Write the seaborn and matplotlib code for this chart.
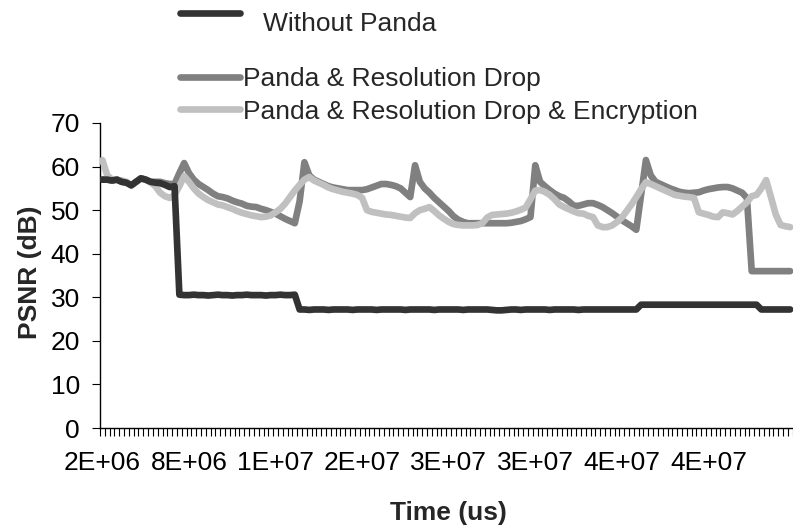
import numpy as np
import pandas as pd
import seaborn as sns
import matplotlib.pyplot as plt
from matplotlib.lines import Line2D

# PSNR per frame (dB), one value per sample on the time axis
without_panda = [
    57, 57, 56.8, 57, 56.5, 56.3, 55.7, 56.5, 57.3, 57, 56.5, 56.3, 56.2, 55.8, 55.3, 55.5,
    30.6, 30.5, 30.5, 30.6, 30.5, 30.5, 30.4, 30.5, 30.6, 30.5, 30.5, 30.4, 30.5,
    30.5, 30.6, 30.5, 30.5, 30.5, 30.4, 30.5, 30.5, 30.6, 30.5, 30.5, 30.6,
    27.2, 27.2, 27.1, 27.2, 27.2, 27.2, 27.1, 27.2, 27.2, 27.2, 27.2, 27.1,
    27.2, 27.2, 27.2, 27.2, 27.1, 27.2, 27.2, 27.2, 27.2, 27.2, 27.1, 27.2,
    27.2, 27.2, 27.2, 27.2, 27.1, 27.2, 27.2, 27.2, 27.2, 27.2, 27.1, 27.2,
    27.2, 27.2, 27.2, 27.2, 27.1, 27.0, 27.0, 27.1, 27.2, 27.2, 27.1, 27.2,
    27.2, 27.2, 27.2, 27.2, 27.1, 27.2, 27.2, 27.2, 27.2, 27.2, 27.1, 27.2,
    27.2, 27.2, 27.2, 27.2, 27.2, 27.2, 27.2, 27.2, 27.2, 27.2, 27.2,
    28.3, 28.3, 28.3, 28.3, 28.3, 28.3, 28.3, 28.3, 28.3, 28.3, 28.3, 28.3, 28.3,
    28.3, 28.3, 28.3, 28.3, 28.3, 28.3, 28.3, 28.3, 28.3, 28.3, 28.3, 28.3,
    27.2, 27.2, 27.2, 27.2, 27.2, 27.2, 27.2,
]

resolution_drop = [
    57, 57, 56.8, 57, 56.5, 56.3, 55.7, 56.5, 57.3, 57, 56.5, 56.5, 56.5, 56.2, 56,
    56, 58.5, 60.8, 58.5, 57, 56, 55.3, 54.6, 53.8, 53.2,
    53, 52.7, 52.2, 51.8, 51.5, 51, 50.8, 50.7, 50.3, 50,
    49.6, 49.2, 48.6, 48, 47.5, 47,
    52, 61, 58, 57, 56.5, 56, 55.5, 55.2, 55, 54.8,
    54.6, 54.6, 54.6, 54.6, 54.8, 55.2, 55.6, 56, 56, 55.8,
    55.5, 55, 54, 53,
    60.3, 56.5, 55, 54, 52.8, 51.8, 50.8, 49.8, 48.6, 47.8,
    47.3, 47, 47, 47, 47, 47, 47, 47, 47, 47,
    47.1, 47.3, 47.5, 47.9, 48.4,
    60.3, 56.5, 55.5, 54.6, 53.8, 53.2, 52.8, 52, 51, 51,
    51.3, 51.6, 51.6, 51.2, 50.7, 50, 49.3, 48.5, 47.7, 47,
    46.3, 45.5,
    53.5, 61.5, 58, 56.5, 56, 55.5, 55, 54.6,
    54.2, 54, 53.9, 54, 54.1, 54.5, 54.8, 55, 55.2, 55.3,
    55.3, 55, 54.5, 54, 52.8,
    36, 36, 36, 36, 36, 36, 36, 36, 36,
]

resolution_drop_encryption = [
    61.5, 58, 57, 57, 56.8, 56.5, 55.7, 56.5, 57.3, 57, 56.4, 55.5, 54, 53.2, 52.8,
    53.5, 55.5, 57.8, 56.5, 55, 53.8, 53, 52.3, 51.8, 51.3,
    51.1, 50.7, 50.3, 49.8, 49.4, 49.1, 48.8, 48.6, 48.4, 48.5,
    48.8, 49.5, 50.3, 51.5, 53, 54.5, 55.8, 57, 57.6, 56.8,
    56.3, 55.8, 55.2, 54.8, 54.5, 54.2, 54, 53.8, 53.5, 52.8,
    50, 49.6, 49.4, 49.2, 49, 48.9, 48.7, 48.5, 48.3, 48.2,
    49.3, 50, 50.3, 50.7, 49.8, 48.8, 48, 47.3, 46.8, 46.6,
    46.5, 46.5, 46.5, 46.6, 47, 48.3, 48.9, 49, 49.1, 49.2,
    49.4, 49.7, 50.1, 50.6, 52.5, 54.5, 54.6, 54.2, 53.5, 52.5,
    51.3, 50.7, 50.2, 49.7, 49.3, 49.2, 48.7, 48.4, 46.5, 46.1,
    46.1, 46.5, 47.3, 48.3, 49.8, 51.3, 53, 54.8, 56.4, 56,
    55.5, 55, 54.5, 54, 53.5, 53.3, 53.1, 53, 52.8, 49.5,
    49.2, 48.9, 48.5, 48.4, 49.5, 49.3, 49, 49.8, 50.8, 51.8,
    53.2, 53.5, 55, 56.9, 53, 49, 46.6, 46.3, 46.1,
]

series_names = ["Without Panda", "Panda & Resolution Drop",
                "Panda & Resolution Drop & Encryption"]
series_colors = ["#333333", "#808080", "#C0C0C0"]

# time-axis labels shown every 18 samples
time_labels = ["2E+06", "8E+06", "1E+07", "2E+07", "3E+07", "3E+07", "4E+07", "4E+07"]
label_step = 18

sns.set_style("white")
plt.rcParams['font.family'] = ['Liberation Sans', 'DejaVu Sans']

W, H = 793, 529
fig = plt.figure(figsize=(W / 100, H / 100), dpi=100)
ax = fig.add_axes([100 / W, 1 - 428 / H, 692.6 / W, 305 / H])

n = len(without_panda)
sample = np.arange(n)
frames = []
for name, vals in zip(series_names,
                      [without_panda, resolution_drop, resolution_drop_encryption]):
    frames.append(pd.DataFrame({"sample": sample, "psnr": vals, "series": name}))
df = pd.concat(frames, ignore_index=True)

zorders = {series_names[0]: 4, series_names[1]: 2, series_names[2]: 3}
line_w = 4.8
for name, color in zip(series_names, series_colors):
    sub = df[df["series"] == name]
    sns.lineplot(data=sub, x="sample", y="psnr", color=color, linewidth=line_w,
                 ax=ax, zorder=zorders[name], solid_capstyle="round",
                 solid_joinstyle="round")

ax.set_xlim(-0.5, n - 0.5)
ax.set_ylim(0, 70)
ax.set_xlabel("")
ax.set_ylabel("")

for side in ["top", "right"]:
    ax.spines[side].set_visible(False)
for side in ["left", "bottom"]:
    ax.spines[side].set_color("#000000")
    ax.spines[side].set_linewidth(1.0)

ax.set_yticks(np.arange(0, 71, 10))
ax.tick_params(axis="y", direction="out", length=5.8, width=0.8, color="#000000",
               pad=8.6, labelsize=19, labelcolor="#000000", left=True)

# category boundary ticks, labels centered on every 18th sample
ax.set_xticks(np.arange(-0.5, n, 1.0))
ax.set_xticklabels([])
ax.set_xticks(np.arange(0, len(time_labels) * label_step, label_step), minor=True)
ax.set_xticklabels(time_labels, minor=True)
ax.tick_params(axis="x", which="major", direction="out", length=5.8, width=0.8,
               color="#000000", bottom=True)
ax.tick_params(axis="x", which="minor", length=0, pad=16.5, labelsize=19,
               labelcolor="#000000", bottom=True)

fig.text(448 / W, 1 - 520 / H, "Time (us)", fontsize=19, fontweight="bold",
         ha="center", va="baseline")
fig.text(37 / W, 1 - 272 / H, "PSNR (dB)", fontsize=19, fontweight="bold",
         rotation=90, rotation_mode="anchor", ha="center", va="baseline")

# legend entries
legend_rows = [(13.3, 263, 31.0), (77.3, 243, 85.6), (109.3, 243, 119.0)]
for (ly, tx, tb), name, color in zip(legend_rows, series_names, series_colors):
    fig.add_artist(Line2D([180 / W, 240 / W], [1 - ly / H, 1 - ly / H], color=color,
                          linewidth=line_w, solid_capstyle="round"))
    fig.text(tx / W, 1 - tb / H, name, fontsize=19, ha="left", va="baseline")

fig.savefig("out.png", dpi=100, facecolor="white")
